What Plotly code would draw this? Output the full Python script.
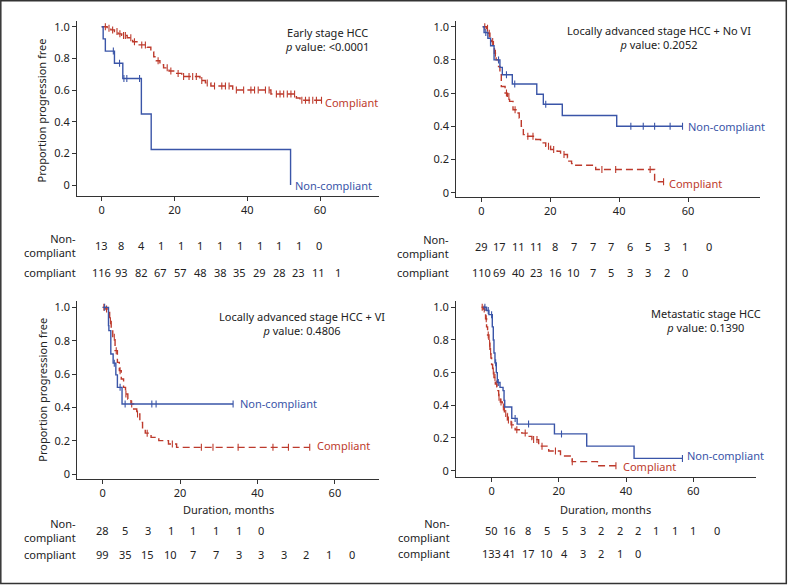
import plotly.graph_objects as go

W, H = 788, 585
FONT = "Noto Sans"
BLUE = "#3a55a8"
RED = "#bd3a2c"
TXT = "#222222"

# ---------------- data ----------------
# Panel 1: Early stage HCC
p1_nc_t = [0, 0.4, 1.0, 3.5, 5.8, 10.9, 13.6, 51.9]
p1_nc_s = [1.0, 0.923, 0.846, 0.769, 0.673, 0.449, 0.224, 0.0]
p1_nc_cens = [3.2, 4.9, 6.1, 6.9, 10.4]
p1_c_t = [0, 1.5, 2.5, 3.5, 4.5, 5.5, 7.0, 8.5, 10.0, 12.5, 13.5, 14.3, 15.0, 16.0, 17.0, 18.5,
          20.0, 22.0, 27.0, 28.5, 30.0, 36.0, 46.5, 53.5, 54.5, 60.4]
p1_c_s = [1.0, 0.99, 0.98, 0.97, 0.955, 0.945, 0.93, 0.905, 0.885, 0.87, 0.84, 0.81, 0.785, 0.76,
          0.74, 0.72, 0.705, 0.685, 0.66, 0.645, 0.625, 0.60, 0.575, 0.55, 0.535, 0.535]
p1_c_cens = [1, 2, 3, 4.2, 5, 6, 6.5, 8, 9, 11, 12, 15.5, 18, 19, 21, 22.5, 24, 25, 26, 27.5, 29,
             31, 33, 34, 35, 37, 39, 41, 42, 43, 45, 46, 48, 49, 50, 51, 52, 53, 55, 56, 57, 58, 59, 60.4]
p1_risk_nc = [13, 8, 4, 1, 1, 1, 1, 1, 1, 1, 1, 0]
p1_risk_c = [116, 93, 82, 67, 57, 48, 38, 35, 29, 28, 23, 11, 1]
p1_risk_t = [0, 5.42, 10.84, 16.26, 21.68, 27.1, 32.52, 37.94, 43.36, 48.78, 54.2, 59.62, 65.04]

# Panel 2: Locally advanced stage HCC + No VI
p2_nc_t = [0.4, 0.8, 1.9, 2.7, 3.7, 5.4, 6.1, 9.0, 16.1, 18.0, 23.5, 39.3, 58.4]
p2_nc_s = [1.0, 0.965, 0.93, 0.885, 0.80, 0.755, 0.71, 0.655, 0.593, 0.533, 0.465, 0.40, 0.40]
p2_nc_cens = [1.3, 5.0, 7.3, 9.7, 18.7, 43.4, 47.0, 50.3, 54.8, 58.4]
p2_c_t = [0.4, 1.5, 2.0, 2.5, 3.0, 3.5, 3.8, 4.3, 5.0, 5.4, 5.8, 6.9, 7.6, 8.2, 9.2, 10.3, 11.0,
          11.6, 12.2, 13.4, 15.8, 17.2, 18.7, 20.1, 22.0, 23.0, 25.0, 25.4, 26.2, 26.9, 33.2, 50.3, 52.9]
p2_c_s = [1.0, 0.99, 0.96, 0.93, 0.91, 0.88, 0.84, 0.80, 0.76, 0.71, 0.64, 0.60, 0.58, 0.55, 0.50,
          0.48, 0.45, 0.40, 0.35, 0.34, 0.32, 0.30, 0.28, 0.26, 0.25, 0.23, 0.21, 0.19, 0.175, 0.165,
          0.14, 0.066, 0.066]
p2_c_cens = [1.0, 1.8, 2.3, 3.3, 4.1, 7.3, 8.0, 9.8, 13.5, 15.0, 19.5, 21.0, 24.0, 35.0, 39.0, 49.0, 52.9]
p2_risk_nc = [29, 17, 11, 11, 8, 7, 7, 7, 6, 5, 3, 1, 0]
p2_risk_c = [110, 69, 40, 23, 16, 10, 7, 5, 3, 3, 2, 0]
p2_risk_t = [0, 5.38, 10.76, 16.14, 21.52, 26.9, 32.28, 37.66, 43.04, 48.42, 53.8, 59.18, 66.2]

# Panel 3: Locally advanced stage HCC + VI
p3_nc_t = [0, 1.5, 1.6, 2.1, 2.7, 3.4, 3.8, 5.0, 33.7]
p3_nc_s = [1.0, 0.89, 0.86, 0.72, 0.665, 0.595, 0.52, 0.42, 0.42]
p3_nc_cens = [0.5, 3.0, 4.5, 5.8, 12.7, 13.8, 33.7]
p3_c_t = [0, 0.8, 1.3, 1.8, 2.2, 2.6, 3.2, 3.8, 4.3, 4.8, 5.4, 5.9, 6.5, 7.3, 8.0, 8.8, 9.6, 10.3,
          11.0, 12.5, 14.5, 17.0, 19.1, 53.5]
p3_c_s = [1.0, 0.99, 0.97, 0.92, 0.87, 0.82, 0.74, 0.67, 0.62, 0.57, 0.52, 0.48, 0.45, 0.42, 0.39,
          0.36, 0.31, 0.27, 0.245, 0.22, 0.20, 0.18, 0.16, 0.16]
p3_c_cens = [0.3, 1.0, 2.0, 3.0, 3.5, 4.5, 6.0, 7.5, 9.0, 11.5, 18.0, 25.5, 28.5, 35.0, 44.0, 48.0, 53.5]
p3_risk_nc = [28, 5, 3, 1, 1, 1, 1, 0]
p3_risk_c = [99, 35, 15, 10, 7, 7, 3, 3, 3, 2, 1, 0]
p3_risk_t = [0, 5.85, 11.7, 17.55, 23.4, 29.25, 35.1, 40.95, 46.8, 52.65, 58.5, 64.35]

# Panel 4: Metastatic stage HCC
p4_nc_t = [-2.5, -1.5, -0.8, 0.2, 0.5, 0.7, 1.0, 1.4, 1.7, 2.5, 3.4, 3.7, 3.9, 6.0, 7.6, 18.7,
           28.3, 42.4, 56.8]
p4_nc_s = [1.0, 0.98, 0.955, 0.88, 0.80, 0.72, 0.66, 0.60, 0.54, 0.51, 0.49, 0.43, 0.39, 0.32,
           0.285, 0.225, 0.15, 0.075, 0.075]
p4_nc_cens = [-2.0, -1.0, 0.0, 1.2, 2.0, 7.0, 11.0, 20.8, 56.8]
p4_c_t = [-3.0, -2.5, -2.0, -1.8, -1.5, -1.2, -0.8, -0.5, -0.2, 0.0, 0.3, 0.7, 1.1, 1.6, 2.1, 2.6,
          3.2, 3.8, 4.7, 5.8, 7.0, 9.0, 10.6, 12.0, 14.0, 17.0, 20.5, 24.0, 31.5, 37.0]
p4_c_s = [1.0, 0.99, 0.97, 0.93, 0.88, 0.83, 0.78, 0.73, 0.69, 0.65, 0.61, 0.57, 0.53, 0.49, 0.45,
          0.42, 0.39, 0.35, 0.31, 0.28, 0.25, 0.23, 0.21, 0.19, 0.15, 0.12, 0.09, 0.055, 0.03, 0.03]
p4_c_cens = [-2.8, -2.2, -1.6, -1.0, -0.6, -0.3, 0.5, 1.0, 1.5, 2.2, 2.8, 3.5, 4.2, 5.0, 6.0, 7.5,
             10.0, 12.5, 13.5, 15.0, 19.0, 24.0, 37.0]
p4_risk_nc = [50, 16, 8, 5, 5, 3, 2, 2, 2, 1, 1, 1, 0]
p4_risk_c = [133, 41, 17, 10, 4, 3, 2, 1, 0]
p4_risk_t = [0, 5.45, 10.9, 16.35, 21.8, 27.25, 32.7, 38.15, 43.6, 49.05, 54.5, 59.95, 67.0]

titles = ["Early stage HCC", "Locally advanced stage HCC + No VI",
          "Locally advanced stage HCC + VI", "Metastatic stage HCC"]
pvalues = ["&lt;0.0001", "0.2052", "0.4806", "0.1390"]
x_ticks = [0, 20, 40, 60]
y_ticks = [0, 0.2, 0.4, 0.6, 0.8, 1.0]
y_ticktext = ["0", "0.2", "0.4", "0.6", "0.8", "1.0"]

# ---------------- layout helpers (pixel -> paper) ----------------
def px(x):
    return x / W

def py(y):
    return 1 - y / H

panels = [
    dict(nc=(p1_nc_t, p1_nc_s, p1_nc_cens), c=(p1_c_t, p1_c_s, p1_c_cens),
         risk=(p1_risk_t, p1_risk_nc, p1_risk_c),
         xdom=(77, 379), ydom=(196, 20.7), xr=(-6.79, 76.2), yr=(-0.0695, 1.038),
         title_xy=(326.5, 39.5), nc_lab=(52.6, 0.0), c_lab=(60.8, 0.52),
         rowlab_x=78, rows_y=(245.5, 272.5), xtitle=False, ytitle=(41.7, 110.8)),
    dict(nc=(p2_nc_t, p2_nc_s, p2_nc_cens), c=(p2_c_t, p2_c_s, p2_c_cens),
         risk=(p2_risk_t, p2_risk_nc, p2_risk_c),
         xdom=(456.3, 759.7), ydom=(197, 20.7), xr=(-7.26, 80.8), yr=(-0.026, 1.036),
         title_xy=(659.3, 38.0), nc_lab=(59.3, 0.40), c_lab=(54.0, 0.054),
         rowlab_x=450.5, rows_y=(246, 272), xtitle=False, ytitle=None),
    dict(nc=(p3_nc_t, p3_nc_s, p3_nc_cens), c=(p3_c_t, p3_c_s, p3_c_cens),
         risk=(p3_risk_t, p3_risk_nc, p3_risk_c),
         xdom=(77.3, 379), ydom=(479, 301), xr=(-6.56, 71.4), yr=(-0.03, 1.038),
         title_xy=(302.3, 323.3), nc_lab=(35.0, 0.424), c_lab=(54.9, 0.17),
         rowlab_x=78, rows_y=(530.5, 554.5), xtitle=True, ytitle=(41.7, 390)),
    dict(nc=(p4_nc_t, p4_nc_s, p4_nc_cens), c=(p4_c_t, p4_c_s, p4_c_cens),
         risk=(p4_risk_t, p4_risk_nc, p4_risk_c),
         xdom=(456, 755.7), ydom=(476.7, 301), xr=(-10.6, 78.6), yr=(-0.037, 1.0386),
         title_xy=(705.7, 320.3), nc_lab=(57.7, 0.095), c_lab=(38.4, 0.025),
         rowlab_x=451.5, rows_y=(530, 553.5), xtitle=True, ytitle=None),
]


def step_value(times, surv, t):
    v = surv[0]
    for ti, si in zip(times, surv):
        if ti <= t:
            v = si
    return v


fig = go.Figure()
annotations = []
layout_axes = {}

for i, p in enumerate(panels):
    n = "" if i == 0 else str(i + 1)
    xa, ya = "x" + n, "y" + n
    for key, color, dash in (("c", RED, "7px,4px"), ("nc", BLUE, "solid")):
        t, s, cens = p[key]
        fig.add_trace(go.Scatter(x=t, y=s, xaxis=xa, yaxis=ya, mode="lines",
                                 line=dict(color=color, width=1.4, dash=dash, shape="hv"),
                                 showlegend=False, hoverinfo="skip"))
        fig.add_trace(go.Scatter(x=cens, y=[step_value(t, s, c) for c in cens],
                                 xaxis=xa, yaxis=ya, mode="markers",
                                 marker=dict(symbol="line-ns", size=5,
                                             line=dict(color=color, width=1.1)),
                                 showlegend=False, hoverinfo="skip"))
    axis_common = dict(showline=True, linecolor="#333", linewidth=1, ticks="outside",
                       ticklen=4, tickcolor="#333", showgrid=False, zeroline=False,
                       tickfont=dict(family=FONT, size=11, color=TXT))
    layout_axes["xaxis" + n] = dict(axis_common, domain=[px(p["xdom"][0]), px(p["xdom"][1])],
                                   range=list(p["xr"]), tickvals=x_ticks, anchor=ya)
    layout_axes["yaxis" + n] = dict(axis_common, domain=[py(p["ydom"][0]), py(p["ydom"][1])],
                                   range=list(p["yr"]), tickvals=y_ticks, ticktext=y_ticktext,
                                   anchor=xa)
    tx, ty = p["title_xy"]
    annotations.append(dict(x=px(tx), y=py(ty), xref="paper", yref="paper",
                            text=titles[i] + "<br><i>p</i> value: " + pvalues[i],
                            showarrow=False, xanchor="center", yanchor="middle", align="center",
                            font=dict(family=FONT, size=11, color=TXT)))
    annotations.append(dict(x=p["nc_lab"][0], y=p["nc_lab"][1], xref=xa, yref=ya,
                            text="Non-compliant", showarrow=False, xanchor="left",
                            yanchor="middle", font=dict(family=FONT, size=11, color=BLUE)))
    annotations.append(dict(x=p["c_lab"][0], y=p["c_lab"][1], xref=xa, yref=ya,
                            text="Compliant", showarrow=False, xanchor="left",
                            yanchor="middle", font=dict(family=FONT, size=11, color=RED)))
    # risk table
    rt, rnc, rc = p["risk"]
    r1, r2 = p["rows_y"]
    annotations.append(dict(x=px(p["rowlab_x"]), y=py(r1), xref="paper", yref="paper",
                            text="Non-<br>compliant", showarrow=False, xanchor="right",
                            align="right", yanchor="middle",
                            font=dict(family=FONT, size=11, color=TXT)))
    annotations.append(dict(x=px(p["rowlab_x"]), y=py(r2), xref="paper", yref="paper",
                            text="compliant", showarrow=False, xanchor="right",
                            yanchor="middle", font=dict(family=FONT, size=11, color=TXT)))
    for tt, v in zip(rt, rnc):
        annotations.append(dict(x=tt, y=py(r1), xref=xa, yref="paper", text=str(v),
                                showarrow=False, xanchor="center", yanchor="middle",
                                font=dict(family=FONT, size=11, color=TXT)))
    for tt, v in zip(rt, rc):
        annotations.append(dict(x=tt, y=py(r2), xref=xa, yref="paper", text=str(v),
                                showarrow=False, xanchor="center", yanchor="middle",
                                font=dict(family=FONT, size=11, color=TXT)))
    if p["xtitle"]:
        cx = (p["xdom"][0] + p["xdom"][1]) / 2
        annotations.append(dict(x=px(cx), y=py(509.3), xref="paper", yref="paper",
                                text="Duration, months", showarrow=False, xanchor="center",
                                yanchor="middle", font=dict(family=FONT, size=11, color=TXT)))
    if p["ytitle"]:
        annotations.append(dict(x=px(p["ytitle"][0]), y=py(p["ytitle"][1]), xref="paper",
                                yref="paper", text="Proportion progression free",
                                showarrow=False, textangle=-90, xanchor="center",
                                yanchor="middle", font=dict(family=FONT, size=11, color=TXT)))

fig.update_layout(
    width=W, height=H, margin=dict(l=0, r=0, t=0, b=0, pad=0, autoexpand=False),
    paper_bgcolor="white", plot_bgcolor="white",
    font=dict(family=FONT, size=11, color=TXT),
    annotations=annotations,
    shapes=[dict(type="rect", xref="paper", yref="paper", x0=px(0.8), x1=px(786.3),
                 y0=py(583.5), y1=py(0.8), line=dict(color="#333", width=1.5))],
    **layout_axes,
)

fig.write_html("out.html", config={"displayModeBar": False},
               post_script="document.body.style.margin='0';document.body.style.overflow='hidden';")
